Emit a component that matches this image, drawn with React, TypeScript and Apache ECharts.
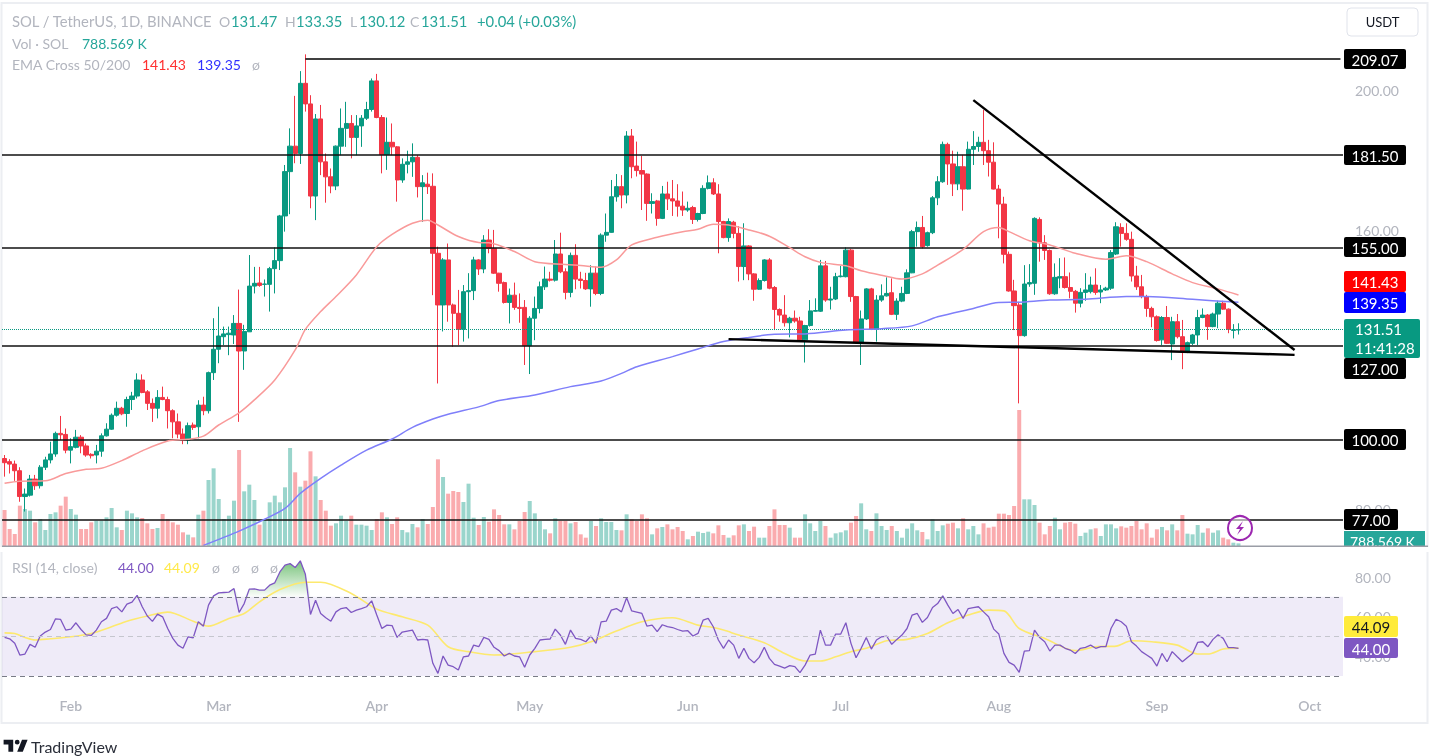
import React, { useEffect, useRef } from "react";
import * as echarts from "echarts";

const startDate = Date.UTC(2024, 0, 19);
const slotCount = 263;
const monthNames = ["Jan", "Feb", "Mar", "Apr", "May", "Jun", "Jul", "Aug", "Sep", "Oct", "Nov", "Dec"];
const categories: string[] = [];
for (let i = 0; i < slotCount; i++) categories.push(new Date(startDate + i * 86400000).toISOString().slice(0, 10));

// open, close, low, high
const candles = [
[94.6,93.4,89.4,95.6],[93.7,93.0,90.3,94.4],[93.0,91.1,88.2,94.0],[91.1,83.7,82.2,92.1],[83.7,84.4,79.4,86.0],
[84.1,88.7,83.7,89.9],[88.7,86.8,85.6,89.9],[86.8,92.1,86.0,92.7],[92.1,94.2,91.3,95.1],[94.2,95.9,93.2,99.4],
[95.9,101.8,95.1,102.3],[101.8,101.4,99.9,106.8],[101.5,97.0,96.1,103.2],[97.0,98.0,93.2,100.4],[97.8,100.7,97.5,102.8],
[100.7,98.2,96.1,101.3],[98.2,95.6,95.1,98.9],[95.8,95.4,94.6,96.1],[95.6,96.7,93.2,98.5],[96.7,101.1,95.1,101.8],
[101.1,103.0,100.9,104.7],[103.0,107.0,102.8,107.5],[107.0,109.0,106.6,110.9],[109.0,107.4,107.0,109.4],[107.5,111.5,103.7,112.3],
[111.5,112.5,108.5,113.7],[112.5,117.1,111.8,119.0],[117.1,113.5,113.3,118.7],[113.7,110.4,108.5,114.2],[110.4,109.0,105.1,111.8],
[109.0,112.1,106.1,114.2],[112.1,111.5,111.3,115.2],[111.5,108.3,103.2,112.3],[108.3,105.1,100.4,108.7],[105.1,101.6,100.4,107.5],
[101.6,99.9,98.7,103.2],[99.9,104.0,98.7,104.9],[104.2,103.5,102.8,104.9],[103.7,109.9,100.4,111.3],[109.9,108.3,107.0,112.3],
[108.3,119.2,107.5,119.5],[119.2,125.9,117.1,134.8],[125.9,129.7,121.9,138.1],[129.5,130.3,127.1,132.4],[130.1,130.5,124.2,132.4],
[130.0,133.3,127.4,135.7],[133.3,125.4,105.1,143.0],[125.4,131.0,120.0,132.9],[130.9,144.0,130.9,152.9],[144.0,144.8,141.9,149.5],
[144.9,144.2,143.8,149.5],[144.5,144.6,141.0,145.9],[144.5,149.0,136.7,149.5],[149.0,151.3,141.9,155.1],[151.3,164.1,148.6,164.4],
[164.1,176.8,159.6,178.7],[176.8,184.1,164.6,189.2],[184.1,182.0,179.2,198.5],[182.0,202.1,179.0,205.6],[202.1,196.2,194.0,210.4],
[196.2,169.8,166.3,198.7],[169.8,191.9,162.9,193.3],[191.9,179.6,175.8,195.9],[179.6,175.3,167.9,182.0],[175.3,172.7,170.6,177.7],
[172.7,184.1,171.5,184.3],[184.1,189.2,181.5,194.9],[189.2,190.6,183.9,196.8],[190.6,186.6,180.6,193.0],[186.6,189.9,181.5,193.0],
[189.9,192.1,183.9,193.0],[192.1,194.6,191.6,196.8],[194.6,202.8,194.0,203.5],[202.8,192.3,192.1,204.8],[192.3,181.7,176.3,193.0],
[181.7,185.2,177.3,192.3],[185.2,183.9,181.5,190.6],[183.9,174.4,168.2,184.1],[174.4,178.9,173.6,180.6],[178.9,179.6,176.3,182.8],
[179.6,180.9,175.3,184.9],[180.9,172.5,169.4,181.5],[172.5,173.6,162.4,175.8],[173.2,172.5,170.4,176.5],[172.6,153.4,141.4,176.3],
[153.4,138.6,116.1,155.3],[138.6,151.5,131.0,152.0],[151.5,138.6,133.8,156.2],[138.6,136.2,126.6,139.0],[136.2,131.6,127.1,142.9],
[131.6,142.4,128.1,144.3],[142.4,142.7,129.0,147.7],[142.7,151.5,140.0,152.4],[151.5,148.9,147.2,151.7],[148.9,157.2,147.7,158.6],
[157.2,154.8,153.4,160.3],[154.8,147.7,147.5,160.1],[147.7,144.8,142.4,147.8],[145.0,139.3,139.0,145.3],[139.3,141.4,133.3,143.3],
[141.4,137.9,137.2,145.0],[137.9,137.6,133.5,141.9],[137.9,126.9,121.4,140.0],[126.9,134.8,118.8,135.4],[134.8,137.6,128.5,141.0],
[137.6,143.8,136.2,145.3],[143.8,146.0,142.9,149.6],[146.0,145.7,145.3,148.1],[145.7,153.2,145.3,157.2],[153.2,148.1,147.7,159.3],
[148.1,142.2,140.2,149.1],[142.2,152.8,140.8,153.6],[152.8,146.0,143.1,156.0],[146.0,145.6,143.3,148.1],[145.6,143.2,142.9,147.8],
[143.2,147.7,138.1,150.0],[147.7,141.9,141.4,149.6],[141.9,158.6,141.4,159.1],[158.6,159.4,156.7,164.8],[159.4,169.6,159.3,174.4],
[169.6,172.5,168.2,176.1],[172.5,170.1,166.3,175.8],[170.1,187.0,167.7,188.4],[187.0,178.2,174.9,189.0],[178.4,177.1,175.4,185.4],
[177.1,176.1,165.8,181.3],[176.1,167.7,162.7,176.3],[167.7,168.2,164.8,170.6],[168.4,163.4,161.3,168.7],[163.4,170.4,163.2,172.7],
[170.4,169.0,165.8,173.9],[169.0,168.4,164.1,174.4],[168.4,166.9,163.9,173.2],[166.9,165.8,164.1,171.1],[165.8,166.3,165.3,168.2],
[166.5,163.1,161.8,167.0],[163.1,164.8,162.5,165.0],[164.8,172.0,164.6,172.9],[172.0,173.6,171.7,175.7],[173.6,170.4,170.1,174.9],
[170.4,162.5,153.4,173.2],[162.5,157.9,157.7,162.7],[157.9,162.5,156.7,163.4],[162.3,159.1,157.7,162.7],[159.1,149.6,145.3,161.2],
[149.6,155.5,145.7,162.0],[155.5,147.5,145.7,155.7],[147.5,143.1,139.8,147.7],[143.1,145.6,142.9,146.2],[145.6,151.5,145.3,151.7],
[151.5,143.4,143.1,152.0],[143.6,137.3,131.4,144.0],[137.3,135.7,133.8,137.6],[135.7,133.5,132.4,141.4],[133.5,134.8,129.3,135.2],
[134.8,134.0,133.5,137.0],[134.0,128.6,128.4,135.2],[128.6,132.7,122.1,132.9],[132.7,136.9,132.4,140.0],[136.8,137.0,136.7,140.5],
[136.8,149.8,136.6,151.5],[149.8,140.0,139.5,151.2],[140.0,140.3,137.3,143.8],[140.3,146.7,140.0,147.8],[146.7,146.9,146.5,149.8],
[146.7,154.3,146.5,155.1],[154.3,141.0,139.5,154.6],[141.0,127.9,127.6,141.2],[127.9,134.6,121.4,137.0],[134.6,143.2,134.3,143.4],
[143.2,131.6,131.4,143.5],[131.6,140.0,128.1,141.4],[140.0,141.2,139.5,144.5],[141.2,141.9,141.0,146.5],[142.1,135.9,135.7,146.2],
[135.9,139.7,134.3,140.5],[139.7,141.9,139.4,143.8],[141.9,147.8,141.7,148.8],[147.8,159.6,147.7,160.1],[159.6,160.8,155.3,162.5],
[160.8,155.3,154.8,164.1],[155.6,159.3,155.3,159.6],[159.3,169.3,158.9,169.8],[169.3,173.9,167.2,175.5],[173.9,184.6,173.6,185.4],
[184.6,179.0,173.0,185.1],[179.0,173.3,169.8,182.8],[173.3,178.2,171.5,182.5],[178.2,171.8,165.6,181.6],[171.8,183.2,171.7,185.4],
[183.2,184.0,178.7,188.4],[184.0,185.2,182.5,186.8],[185.2,182.8,178.7,194.5],[182.8,179.5,175.4,185.9],[179.5,171.8,171.7,185.2],
[171.8,167.5,157.7,173.0],[167.5,153.1,150.5,169.6],[153.1,142.6,142.4,153.9],[142.6,138.4,131.4,145.8],[138.6,129.8,110.4,139.5],
[129.8,144.6,129.5,150.0],[144.6,145.0,143.8,150.3],[144.8,163.4,141.5,163.7],[163.1,156.4,151.0,163.7],[156.4,154.2,151.5,158.6],
[154.2,141.8,141.5,154.5],[141.8,146.5,141.5,150.5],[146.3,146.7,143.4,152.0],[146.7,143.6,143.3,152.2],[143.6,142.5,140.5,147.9],
[142.5,139.1,136.4,142.9],[139.1,142.2,137.9,143.4],[142.2,142.9,139.8,147.7],[142.4,144.3,141.9,146.7],[144.3,142.2,141.5,149.1],
[142.3,142.9,139.1,144.3],[142.9,143.4,142.6,143.8],[143.4,153.6,142.9,154.3],[153.2,161.0,152.9,162.3],[160.8,159.1,155.3,162.0],
[159.1,157.4,157.0,162.0],[157.4,146.9,145.3,159.6],[146.9,143.8,142.9,149.8],[143.8,141.0,140.5,147.2],[141.0,137.6,135.2,141.5],
[137.6,135.2,132.2,138.1],[135.2,128.4,128.1,135.6],[128.6,135.0,127.1,135.4],[135.0,127.6,127.4,138.3],[127.4,133.8,122.8,135.2],
[133.8,129.5,129.0,136.0],[129.5,125.2,120.2,134.3],[125.2,127.8,124.8,128.1],[127.6,130.0,127.1,130.3],[130.0,135.0,127.1,137.2],
[135.0,135.7,134.8,137.6],[135.7,132.4,128.6,136.0],[132.4,136.0,132.2,136.4],[136.0,139.1,131.9,139.8],[139.1,137.4,137.2,139.8],
[137.4,131.6,130.5,137.6],[131.3,131.47,129.0,133.1],[131.47,131.51,130.12,133.35],
];

// volume in millions of SOL
const volumes = [
10.8,5.1,3.6,12.1,11.1,10.6,7.1,8.1,4.8,9.6,
10.1,12.1,14.8,11.1,9.4,5.1,5.1,7.1,7.6,7.6,
8.6,11.4,5.6,4.8,10.6,9.8,8.6,8.4,6.8,5.1,
5.4,9.6,8.1,7.1,6.4,4.1,3.4,2.6,9.4,10.6,
19.8,23.3,14.1,8.1,9.1,13.6,28.8,16.4,18.4,13.8,
6.4,7.8,13.1,15.1,13.1,17.6,29.4,22.1,17.8,19.6,
28.4,20.9,13.8,10.6,6.1,6.8,9.1,7.6,9.1,6.4,
6.4,6.1,4.8,8.1,10.1,8.6,6.6,8.6,4.8,4.1,
6.6,5.6,8.1,6.6,11.7,26.0,20.7,15.7,16.5,16.2,
13.2,18.7,8.5,6.3,8.7,7.3,11.0,9.3,6.5,6.5,
5.0,7.5,10.2,13.5,9.8,7.5,5.0,3.8,8.3,7.5,
7.5,6.8,7.2,3.5,2.5,7.5,6.0,8.3,7.2,7.2,
4.8,4.7,9.5,8.0,7.5,9.5,8.3,3.5,5.3,5.7,
6.5,5.0,5.7,4.5,2.0,3.0,4.3,3.9,4.3,3.8,
6.2,3.3,2.5,3.2,6.2,6.5,4.5,5.8,2.5,2.5,
6.0,11.0,6.3,6.3,5.5,2.5,2.5,9.5,6.8,4.5,
7.5,6.0,2.5,3.8,4.1,4.7,7.0,9.0,12.8,5.0,
4.5,9.8,6.0,4.8,6.0,4.5,2.5,5.2,6.8,4.7,
4.2,2.0,8.0,4.5,6.2,6.7,7.0,5.3,8.3,5.0,
6.0,3.5,6.8,5.5,5.8,9.7,9.7,9.3,12.0,40.8,
14.0,14.0,12.3,7.0,3.5,6.0,8.5,5.0,7.0,7.2,
6.7,3.0,4.0,5.0,5.3,3.0,6.5,6.5,5.3,5.9,
5.5,6.0,7.5,5.0,6.8,2.5,5.0,5.7,4.7,6.5,
4.7,9.3,3.7,3.5,6.3,4.0,5.3,4.0,4.7,2.5,
2.0,1.0,0.79,
];

// [candle index, value] read at the visible bends of each line
const ema50Points = [
[0,87.5],[3,88.1],[8,88.2],[12,90.3],[16,91.5],[19,91.8],[23,94.0],[27,96.8],[32,99.6],[36,100.1],[39,101.0],[42,104.2],
[46,107.7],[49,111.4],[53,117.1],[57,125.7],[59,131.6],[62,136.7],[65,141.0],[69,147.2],[73,155.3],[76,158.8],[80,162.0],
[83,162.9],[85,161.5],[89,158.2],[93,156.5],[95,156.4],[100,153.9],[104,151.0],[110,150.2],[113,149.9],[117,149.4],[120,151.5],
[123,155.8],[128,158.0],[133,159.6],[136,160.3],[139,161.7],[142,161.5],[146,160.1],[150,158.3],[154,155.0],[157,152.4],
[160,150.8],[165,149.8],[168,148.4],[172,147.1],[176,146.0],[180,147.5],[183,150.0],[188,154.5],[192,159.6],[195,160.8],
[197,159.6],[201,157.0],[205,155.8],[210,153.4],[216,151.7],[220,152.7],[224,151.0],[229,147.5],[233,145.0],[238,143.2],[242,141.43],
];
const ema200Points = [
[39,69.7],[46,73.8],[51,77.2],[55,80.3],[58,84.6],[62,88.9],[66,92.7],[71,97.0],[76,100.2],[80,103.5],[84,105.9],[87,107.3],
[93,109.4],[97,111.2],[104,112.8],[111,115.2],[117,116.8],[121,119.0],[124,120.9],[131,123.8],[136,126.0],[141,128.1],
[146,129.3],[151,130.2],[157,130.3],[165,131.4],[172,131.8],[178,132.6],[183,135.2],[190,137.6],[195,139.3],[199,139.4],
[205,140.0],[212,140.2],[220,141.0],[224,141.0],[233,140.2],[242,139.35],
];

const rsiValues = [
49.5,48.8,46.5,40.6,41.1,46.0,44.5,50.2,52.2,53.5,
58.9,58.6,53.2,53.7,56.9,53.5,50.8,50.5,53.2,57.4,
59.1,64.1,65.0,62.4,66.3,67.3,70.8,65.0,60.3,57.6,
61.3,59.9,54.0,49.0,45.6,44.0,49.8,49.3,57.4,55.2,
65.8,70.5,72.0,72.2,72.4,74.2,62.1,66.6,73.9,74.0,
73.4,73.4,75.9,77.1,82.6,86.0,86.8,84.8,88.2,81.4,
61.1,68.3,61.6,59.4,57.7,62.4,64.1,64.6,62.1,63.3,
64.1,65.0,68.0,60.8,54.0,55.7,55.5,49.5,52.2,52.7,
53.2,48.2,48.5,48.2,36.4,31.3,40.1,35.5,34.7,33.0,
39.7,40.1,45.6,44.8,49.5,48.5,44.5,42.8,40.1,41.4,
40.1,39.7,34.4,40.6,44.0,48.2,48.5,48.7,53.7,50.7,
46.0,53.2,49.0,48.5,47.3,50.2,46.5,57.4,57.7,63.3,
64.1,62.4,69.5,62.9,62.3,61.6,55.2,55.7,52.4,55.9,
54.9,54.5,53.5,52.7,52.9,50.2,51.5,58.2,59.1,54.9,
48.2,44.0,48.2,45.6,38.9,44.0,38.9,36.7,39.4,44.5,
38.9,35.9,35.0,34.0,35.2,34.7,31.7,35.5,40.6,41.1,
53.2,45.6,45.6,51.2,51.2,56.9,46.5,39.2,44.0,49.5,
43.6,48.2,49.8,50.2,46.0,48.5,50.7,54.0,60.8,61.6,
57.1,59.6,64.6,66.6,70.5,65.8,61.6,63.6,59.1,64.1,
64.6,65.0,62.4,59.9,53.7,51.2,41.4,36.9,35.5,31.8,
42.6,42.8,53.2,49.5,47.3,42.6,45.6,45.6,44.0,43.1,
41.4,44.0,44.5,45.6,44.0,44.8,44.8,54.0,58.7,57.4,
55.2,47.3,45.1,42.3,40.6,38.9,35.0,41.4,37.2,42.3,
39.7,37.2,39.4,41.4,47.0,47.3,44.8,48.5,50.8,49.0,
44.3,44.3,44.0,
];
const rsiMaPoints = [
[0,51.8],[2,51.5],[4,49.5],[6,48.2],[9,48.8],[13,49.8],[17,51.5],[21,54.9],[24,57.7],[28,60.3],[32,62.3],[37,57.7],[40,55.2],
[44,59.1],[47,61.6],[50,67.5],[54,73.7],[59,77.4],[62,77.4],[68,71.7],[73,63.8],[78,59.9],[83,55.7],[87,44.8],[91,42.3],
[96,40.6],[104,42.3],[111,44.5],[115,47.3],[120,52.7],[125,57.4],[131,59.4],[136,55.7],[139,54.5],[141,53.2],[144,50.7],
[149,46.8],[153,41.4],[157,37.6],[160,37.6],[163,39.7],[166,42.3],[169,44.0],[173,47.8],[177,48.5],[181,51.5],[185,56.9],
[189,60.8],[193,63.3],[196,62.9],[199,54.0],[204,49.0],[210,42.8],[214,44.8],[218,45.1],[221,47.8],[225,47.3],[230,45.6],
[234,41.1],[236,41.1],[239,43.6],[242,44.09],
];

const supportLevels = [181.5, 155.0, 127.0, 100.0, 77.0];
const highLevelLine = [[59, 209.07], [262, 209.07]];
const descendingTrend = [[190, 197.3], [253, 125.7]];
const floorTrend = [[142, 128.8], [253, 124.3]];
const lastPrice = 131.51;
const priceTicks = [200, 160, 80];
const rsiTicks = [80, 60, 40];

const UP = "#089981";
const DOWN = "#F23645";
const FONT = "Lato, 'Open Sans', sans-serif";
const GREY = "#B2B5BE";

echarts.graphic.registerShape(
  "tvLogo",
  (echarts.graphic as any).extendPath("M14 6H2v6h6v9h6V6Zm12 15h-7l6-15h7l-6 15Zm-7-9a3 3 0 1 0 0-6 3 3 0 0 0 0 6Z", {})
);

function txt(text: string, x: number, y: number, fill: string, size = 14, align = "left", weight = "normal") {
  return {
    type: "text",
    z: 120,
    silent: true,
    style: { text, x, y, fill, font: `${weight} ${size}px ${FONT}`, textAlign: align, textVerticalAlign: "middle" },
  };
}
function priceTag(text: string, top: number, bottom: number, bg: string, fill = "#fff", right = 1406) {
  const left = 1344;
  return [
    { type: "rect", z: 110, silent: true, shape: { x: left, y: top, width: right - left, height: bottom - top, r: 2 }, style: { fill: bg } },
    txt(text, (left + right) / 2, (top + bottom) / 2 + 0.5, fill, 15, "center"),
  ];
}

function buildGraphic() {
  return [
    { type: "rect", z: 1, silent: true, shape: { x: 1.5, y: 3, width: 1426, height: 720 }, style: { fill: "none", stroke: "#ECEEF2", lineWidth: 2 } },
    txt("SOL / TetherUS, 1D, BINANCE", 12, 21, GREY, 14.8),
    txt("O", 219, 21, GREY), txt("131.47", 231, 21, "#26A69A", 14.8),
    txt("H", 285, 21, GREY), txt("133.35", 296, 21, "#26A69A", 14.8),
    txt("L", 350, 21, GREY), txt("130.12", 359, 21, "#26A69A", 14.8),
    txt("C", 410, 21, GREY), txt("131.51", 421, 21, "#26A69A", 14.8),
    txt("+0.04 (+0.03%)", 477, 21, "#26A69A", 14.8),
    txt("Vol · SOL", 12, 43, GREY), txt("788.569 K", 82, 43, "#26A69A"),
    txt("EMA Cross 50/200", 12, 64, GREY), txt("141.43", 142, 64, "#FF3030"), txt("139.35", 197, 64, "#3030FF"), txt("ø", 252, 64, GREY),
    txt("RSI (14, close)", 12, 567, GREY), txt("44.00", 118, 567, "#7E57C2"), txt("44.09", 164, 567, "#FFE94A"),
    txt("ø", 212, 567, GREY), txt("ø", 232, 567, GREY), txt("ø", 251, 567, GREY), txt("ø", 270, 567, GREY),
    { type: "rect", z: 110, silent: true, shape: { x: 1347, y: 8, width: 71, height: 28, r: 4 }, style: { fill: "#fff", stroke: "#E0E3EB", lineWidth: 1 } },
    txt("USDT", 1382.5, 22, "#131722", 13, "center"),
    ...priceTag("209.07", 49, 69, "#000"),
    ...priceTag("181.50", 145, 165, "#000"),
    ...priceTag("155.00", 237, 257, "#000"),
    ...priceTag("141.43", 271, 292, "#FF0000"),
    ...priceTag("139.35", 292, 313, "#0000FF"),
    { type: "rect", z: 110, silent: true, shape: { x: 1344, y: 319, width: 76, height: 39, r: 2 }, style: { fill: UP } },
    txt("131.51", 1355, 329, "#fff", 15),
    txt("11:41:28", 1355, 348, "#fff", 15),
    ...priceTag("127.00", 358, 379, "#000"),
    ...priceTag("100.00", 429, 450, "#000"),
    ...priceTag("77.00", 509, 530, "#000", "#fff", 1398),
    { type: "rect", z: 110, silent: true, shape: { x: 1344, y: 531, width: 81, height: 15 }, style: { fill: "#26A69A" } },
    txt("788.569 K", 1350, 541, "#fff", 14),
    { type: "rect", z: 125, silent: true, shape: { x: 0, y: 547, width: 1432, height: 5 }, style: { fill: "#fff" } },
    { type: "rect", z: 126, silent: true, shape: { x: 2, y: 545.5, width: 1426, height: 1.5 }, style: { fill: "#9A9DA6" } },
    ...priceTag("44.09", 616, 637, "#FFEB3B", "#131722", 1398),
    ...priceTag("44.00", 638, 658, "#7E57C2", "#fff", 1398),
    { type: "circle", z: 115, silent: true, shape: { cx: 1240, cy: 528, r: 12 }, style: { fill: "rgba(255,255,255,0.55)", stroke: "#9C27B0", lineWidth: 2 } },
    { type: "polygon", z: 116, silent: true, shape: { points: [[1243, 521], [1236, 529], [1240, 529], [1237, 535], [1244, 527], [1240, 527]] }, style: { fill: "#9C27B0" } },
    { type: "tvLogo", z: 120, silent: true, x: 2, y: 735, scaleX: 0.8, scaleY: 0.8, style: { fill: "#131722" } },
    txt("TradingView", 31, 746, "#2A2E39", 16),
  ];
}

export default function App() {
  const ref = useRef<HTMLDivElement>(null);
  useEffect(() => {
    const chart = echarts.init(ref.current!, undefined, { renderer: "svg" });
    const overlayLine = (name: string, data: number[][], color: string, width: number, smooth = 0, z = 6) => ({
      name,
      type: "line",
      xAxisIndex: 0,
      yAxisIndex: 0,
      data,
      symbol: "none",
      smooth,
      z,
      silent: true,
      lineStyle: { color, width },
      connectNulls: true,
    });
    chart.setOption({
      animation: false,
      backgroundColor: "#fff",
      textStyle: { fontFamily: FONT },
      grid: [
        { left: 2, top: 10, width: 1341, height: 536 },
        { left: 2, top: 547, width: 1341, height: 146 },
      ],
      xAxis: [
        { type: "category", gridIndex: 0, data: categories, show: false, boundaryGap: true },
        {
          type: "category",
          gridIndex: 1,
          data: categories,
          boundaryGap: true,
          axisLine: { show: false },
          axisTick: { show: false },
          splitLine: { show: false },
          axisLabel: {
            color: GREY,
            fontSize: 14,
            fontWeight: 600,
            margin: 5,
            interval: (_: number, v: string) => v.endsWith("-01"),
            formatter: (v: string) => monthNames[Number(v.slice(5, 7)) - 1],
          },
        },
      ],
      yAxis: [
        {
          type: "value",
          gridIndex: 0,
          position: "right",
          min: 69.53,
          max: 223.11,
          axisLine: { show: false },
          axisTick: { show: false },
          splitLine: { show: false },
          axisLabel: { customValues: priceTicks, color: GREY, fontSize: 14, margin: 12, formatter: (v: number) => v.toFixed(2) },
        },
        { type: "value", gridIndex: 0, min: 0, max: 160.8, show: false },
        {
          type: "value",
          gridIndex: 1,
          position: "right",
          min: 21.4,
          max: 95.2,
          axisLine: { show: false },
          axisTick: { show: false },
          splitLine: { show: false },
          axisLabel: { customValues: rsiTicks, color: GREY, fontSize: 14, margin: 12, formatter: (v: number) => v.toFixed(2) },
        },
      ],
      series: [
        {
          name: "Volume",
          type: "bar",
          xAxisIndex: 0,
          yAxisIndex: 1,
          barWidth: 4,
          z: 2,
          silent: true,
          data: volumes.map((v, i) => ({ value: v, itemStyle: { color: candles[i][1] >= candles[i][0] ? "#9AD5CC" : "#FAABAE" } })),
        },
        {
          name: "SOL",
          type: "candlestick",
          xAxisIndex: 0,
          yAxisIndex: 0,
          barWidth: 4.8,
          z: 4,
          silent: true,
          data: candles,
          itemStyle: { color: UP, color0: DOWN, borderColor: UP, borderColor0: DOWN, borderWidth: 1 },
        },
        overlayLine("EMA 50", ema50Points, "#F99A9A", 1.5, 0.3, 5),
        overlayLine("EMA 200", ema200Points, "#7F7FFA", 1.5, 0.3, 5),
        {
          name: "Levels",
          type: "line",
          xAxisIndex: 0,
          yAxisIndex: 0,
          data: [],
          z: 6,
          silent: true,
          markLine: {
            silent: true,
            symbol: "none",
            animation: false,
            label: { show: false },
            lineStyle: { color: "#111", width: 1.5, type: "solid" },
            data: [
              ...supportLevels.map((v) => ({ yAxis: v })),
              { yAxis: lastPrice, lineStyle: { color: UP, width: 1, type: "dotted" } },
            ],
          },
        },
        overlayLine("209.07 level", highLevelLine, "#000", 1.5),
        overlayLine("Descending trend", descendingTrend, "#000", 2.4, 0, 7),
        overlayLine("Floor trend", floorTrend, "#000", 2.4, 0, 7),
        {
          name: "RSI band",
          type: "line",
          xAxisIndex: 1,
          yAxisIndex: 2,
          data: [],
          silent: true,
          z: 1,
          markArea: {
            silent: true,
            itemStyle: { color: "rgba(126,87,194,0.12)" },
            data: [[{ yAxis: 70 }, { yAxis: 30 }]],
          },
          markLine: {
            silent: true,
            symbol: "none",
            animation: false,
            label: { show: false },
            lineStyle: { color: "#787B86", width: 1, type: [5, 4] },
            data: [{ yAxis: 70 }, { yAxis: 30 }, { yAxis: 50, lineStyle: { color: "#C5C6CE", width: 1.2, type: [5, 4] } }],
          },
        },
        {
          name: "RSI overbought",
          type: "line",
          xAxisIndex: 1,
          yAxisIndex: 2,
          data: rsiValues.map((v) => Math.max(v, 70)),
          symbol: "none",
          silent: true,
          z: 2,
          lineStyle: { width: 0 },
          areaStyle: {
            origin: 70,
            opacity: 1,
            color: new echarts.graphic.LinearGradient(0, 0, 0, 1, [
              { offset: 0, color: "rgba(76,175,80,0.75)" },
              { offset: 1, color: "rgba(76,175,80,0.02)" },
            ]),
          },
        },
        {
          name: "RSI MA",
          type: "line",
          xAxisIndex: 1,
          yAxisIndex: 2,
          data: rsiMaPoints,
          symbol: "none",
          smooth: 0.3,
          silent: true,
          z: 3,
          lineStyle: { color: "#FDE96E", width: 1.6 },
        },
        {
          name: "RSI",
          type: "line",
          xAxisIndex: 1,
          yAxisIndex: 2,
          data: rsiValues,
          symbol: "none",
          silent: true,
          z: 4,
          lineStyle: { color: "#7E57C2", width: 1.3 },
        },
      ],
      graphic: buildGraphic(),
    });
    return () => chart.dispose();
  }, []);
  return <div ref={ref} style={{ position: "fixed", left: 0, top: 0, width: 1432, height: 756, background: "#fff", filter: "blur(0.4px)" }} />;
}
